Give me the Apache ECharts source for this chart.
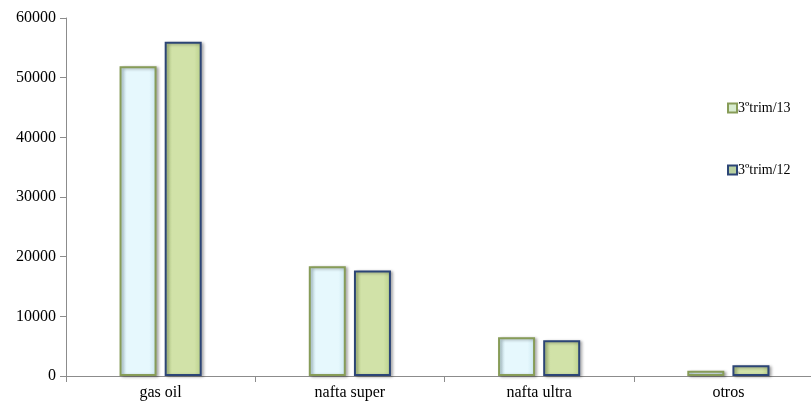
<!DOCTYPE html>
<html>
<head>
<meta charset="utf-8">
<script src="https://cdn.jsdelivr.net/npm/echarts@6/dist/echarts.min.js"></script>
<style>
html,body{margin:0;padding:0;background:#fff;overflow:hidden;}
#main{width:823px;height:404px;}
</style>
</head>
<body>
<div id="main"></div>
<script>
const categories = ['gas oil', 'nafta super', 'nafta ultra', 'otros'];
const seriesNames = ['3ºtrim/13', '3ºtrim/12'];
const trim13 = [51900, 18400, 6500, 900];
const trim12 = [56000, 17700, 6000, 1800];
const yTicks = [0, 10000, 20000, 30000, 40000, 50000, 60000];

const font = '"Liberation Serif", "Times New Roman", serif';
const chart = echarts.init(document.getElementById('main'));

function grad(edge, mid) {
  return new echarts.graphic.LinearGradient(0, 0, 1, 0, [
    {offset: 0, color: edge}, {offset: 0.2, color: mid},
    {offset: 0.8, color: mid}, {offset: 1, color: edge}
  ]);
}

chart.setOption({
  animation: false,
  backgroundColor: '#fff',
  grid: {left: 66, right: 0, top: 18, height: 358, containLabel: false},
  legend: {
    orient: 'vertical', left: 727, top: 101, itemGap: 48, padding: 0,
    itemWidth: 9, itemHeight: 9, icon: 'rect',
    textStyle: {fontFamily: font, fontSize: 14, color: '#000', padding: [0, 0, 0, -4]},
    data: [
      {name: seriesNames[0], itemStyle: {color: '#d8ecd0', borderColor: '#879c58', borderWidth: 2}},
      {name: seriesNames[1], itemStyle: {color: '#b8d0a0', borderColor: '#2c4576', borderWidth: 2}}
    ]
  },
  xAxis: {
    type: 'category', data: categories,
    axisLine: {lineStyle: {color: '#8c8c8c', width: 1}},
    axisTick: {show: true, length: 6, lineStyle: {color: '#8c8c8c'}},
    axisLabel: {fontFamily: font, fontSize: 16, color: '#000', margin: 9}
  },
  yAxis: {
    type: 'value', min: yTicks[0], max: yTicks[yTicks.length - 1], interval: 10000,
    axisLine: {show: true, lineStyle: {color: '#8c8c8c', width: 1}},
    axisTick: {show: true, length: 6, lineStyle: {color: '#8c8c8c'}},
    splitLine: {show: false},
    axisLabel: {fontFamily: font, fontSize: 16, color: '#000', margin: 10, formatter: v => String(v)}
  },
  series: [
    {
      name: seriesNames[0], type: 'bar', data: trim13,
      barWidth: 37, barGap: '22%',
      itemStyle: {
        color: grad('#c9e6ef', '#e6f8fd'),
        borderColor: '#879c58', borderWidth: 2,
        shadowColor: 'rgba(0,0,0,0.3)', shadowBlur: 3, shadowOffsetX: 2, shadowOffsetY: 1
      }
    },
    {
      name: seriesNames[1], type: 'bar', data: trim12,
      barWidth: 37,
      itemStyle: {
        color: grad('#b9cf88', '#d1e2a8'),
        borderColor: '#2c4576', borderWidth: 2,
        shadowColor: 'rgba(0,0,0,0.3)', shadowBlur: 3, shadowOffsetX: 2, shadowOffsetY: 1
      }
    }
  ]
});
</script>
</body>
</html>
